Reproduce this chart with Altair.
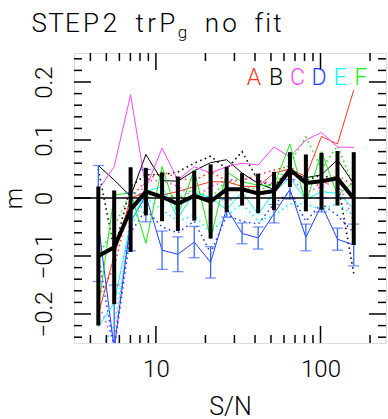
import altair as alt
import pandas as pd

# ---------------- data ----------------
SN = [4.47, 5.58, 7.02, 8.69, 10.9, 13.6, 17.1, 21.5, 26.9, 33.4, 41.8, 52.2, 65.2, 81.5, 101.4, 126.8, 159.2]

mean = [-0.100, -0.085, -0.020, 0.011, 0.002, -0.010, 0.004, -0.006, 0.015, 0.015, 0.008, 0.012, 0.049, 0.026, 0.029, 0.034, -0.001]
mean_err = [0.120, 0.098, 0.073, 0.041, 0.042, 0.047, 0.043, 0.064, 0.039, 0.028, 0.034, 0.033, 0.030, 0.049, 0.049, 0.047, 0.080]

A = [-0.200, -0.100, 0.000, 0.010, 0.005, 0.011, 0.020, 0.028, 0.028, 0.020, 0.020, 0.043, 0.050, 0.037, 0.106, 0.093, 0.186]
B = [0.056, 0.031, 0.003, 0.075, 0.030, 0.029, 0.047, 0.061, 0.066, 0.043, 0.025, 0.015, 0.042, 0.035, 0.040, 0.066, 0.025]
C = [0.014, 0.054, 0.178, 0.017, 0.086, 0.031, 0.054, 0.043, 0.054, 0.060, 0.057, 0.088, 0.071, 0.100, 0.113, 0.088, 0.087]
D = [-0.044, -0.260, -0.041, 0.004, -0.090, -0.097, -0.076, -0.111, -0.018, -0.061, -0.069, -0.027, 0.015, -0.068, -0.012, -0.071, -0.081]
D_err = [0.100, 0.110, 0.050, 0.045, 0.033, 0.030, 0.027, 0.027, 0.015, 0.018, 0.019, 0.016, 0.017, 0.023, 0.012, 0.019, 0.036]
E = [-0.222, -0.181, -0.043, 0.011, 0.020, -0.035, 0.010, 0.000, -0.020, 0.010, -0.028, 0.010, 0.035, -0.003, 0.011, 0.008, -0.018]
F = [-0.190, 0.005, 0.009, -0.078, 0.054, -0.030, 0.048, -0.070, 0.045, 0.028, 0.022, 0.022, 0.093, -0.010, 0.080, 0.005, 0.027]

A_dot = [-0.17, -0.12, 0.00, 0.03, 0.045, 0.035, 0.03, 0.045, 0.03, 0.03, 0.04, 0.048, 0.055, 0.03, 0.02, 0.04, 0.02]
B_dot = [0.05, -0.09, 0.02, 0.04, 0.04, 0.045, 0.06, 0.072, 0.05, 0.08, 0.03, 0.02, 0.05, 0.03, 0.04, 0.03, -0.13]
C_dot = [-0.18, -0.25, -0.03, 0.03, 0.03, 0.02, 0.0, 0.02, 0.03, 0.035, 0.03, 0.025, 0.035, 0.01, 0.02, 0.03, -0.04]
D_dot = [-0.10, -0.26, -0.06, -0.02, -0.05, -0.06, -0.04, -0.095, -0.03, -0.04, -0.045, -0.01, 0.01, -0.04, -0.01, -0.03, -0.06]
E_dot = [-0.27, -0.22, -0.05, 0.0, -0.02, -0.04, -0.03, -0.06, -0.03, -0.01, -0.04, -0.03, -0.01, -0.01, -0.02, -0.01, -0.03]
F_dot = [-0.10, -0.05, 0.01, 0.0, 0.01, 0.0, 0.015, 0.0, 0.03, 0.02, 0.015, 0.02, 0.06, 0.105, 0.05, 0.09, 0.02]

letters = ["A", "B", "C", "D", "E", "F"]
colors = ["#ff3322", "#000000", "#ff44ff", "#1f3fff", "#00ffff", "#11ee11"]
errbar_blue = "#3a66ff"

# title "STEP2 trP_g no fit" (g is a subscript)
title_chars = ["S", "T", "E", "P", "2", "t", "r", "P", "g", "n", "o", "f", "i", "t"]

x_major = [10, 100]
x_minor = [4, 5, 6, 7, 8, 9, 20, 30, 40, 50, 60, 70, 80, 90, 200]
y_major = [-0.2, -0.1, 0.0, 0.1, 0.2]
y_minor = [-0.24, -0.22, -0.18, -0.16, -0.14, -0.12, -0.08, -0.06, -0.04, -0.02,
           0.02, 0.04, 0.06, 0.08, 0.12, 0.14, 0.16, 0.18, 0.22, 0.24]

# ---------------- layout ----------------
W, H = 312, 290
LEFT, TOP = 74, 53
FONT = "Roboto"
FW = 300
FS = 24

solid = {"A": A, "B": B, "C": C, "D": D, "E": E, "F": F}
dotted = {"A": A_dot, "B": B_dot, "C": C_dot, "D": D_dot, "E": E_dot, "F": F_dot}

rows = []
for k, v in solid.items():
    for s, m in zip(SN, v):
        rows.append({"SN": s, "m": m, "series": k, "style": "solid"})
for k, v in dotted.items():
    for s, m in zip(SN, v):
        rows.append({"SN": s, "m": m, "series": k, "style": "dotted"})
lines_df = pd.DataFrame(rows)

mean_df = pd.DataFrame({"SN": SN, "m": mean, "err": mean_err})
d_df = pd.DataFrame({"SN": SN, "m": D, "err": D_err})

xs = alt.Scale(type="log", domain=[3.18, 250], nice=False)
ys = alt.Scale(domain=[-0.25, 0.25], nice=False, zero=False)
xaxis = alt.Axis(values=x_major, format="d", ticks=False, domain=False, grid=False,
                 labelFontSize=FS, labelFont=FONT, labelFontWeight=FW, labelPadding=14, labelColor="black",
                 title="S/N", titleFontSize=25, titleFont=FONT, titleFontWeight=FW,
                 titlePadding=13, titleColor="black")
yaxis = alt.Axis(values=y_major, format="~g", ticks=False, domain=False, grid=False,
                 labelFontSize=FS, labelFont=FONT, labelFontWeight=FW, labelAngle=270, labelAlign="center",
                 labelBaseline="bottom", labelPadding=18, labelColor="black",
                 title="m", titleFontSize=FS, titleFont=FONT, titleFontWeight=FW,
                 titlePadding=6, titleColor="black")


def X(field="SN"):
    return alt.X(f"{field}:Q", scale=xs, axis=xaxis)


def Y(field="m"):
    return alt.Y(f"{field}:Q", scale=ys, axis=yaxis)


color_scale = alt.Scale(domain=letters, range=colors)

base_lines = alt.Chart(lines_df)
dotted_layer = base_lines.transform_filter(alt.datum.style == "dotted").mark_line(
    clip=True, strokeWidth=1.6, strokeDash=[1.5, 3.5]
).encode(x=X(), y=Y(), color=alt.Color("series:N", scale=color_scale, legend=None), detail="series:N")

solid_layer = base_lines.transform_filter(alt.datum.style == "solid").mark_line(
    clip=True, strokeWidth=1
).encode(x=X(), y=Y(), color=alt.Color("series:N", scale=color_scale, legend=None), detail="series:N")

d_base = alt.Chart(d_df).transform_calculate(lo="datum.m - datum.err", hi="datum.m + datum.err")
d_bars = d_base.mark_rule(clip=True, color=errbar_blue, strokeWidth=1.3).encode(
    x=X(), y=Y("lo"), y2="hi:Q")
d_cap_lo = d_base.mark_tick(clip=True, color=errbar_blue, orient="horizontal", size=11, thickness=1.3).encode(
    x=X(), y=Y("lo"))
d_cap_hi = d_base.mark_tick(clip=True, color=errbar_blue, orient="horizontal", size=11, thickness=1.3).encode(
    x=X(), y=Y("hi"))

m_base = alt.Chart(mean_df).transform_calculate(lo="datum.m - datum.err", hi="datum.m + datum.err")
m_bars = m_base.mark_rule(clip=True, color="black", strokeWidth=4).encode(x=X(), y=Y("lo"), y2="hi:Q")
m_line = m_base.mark_line(clip=True, color="black", strokeWidth=4, strokeJoin="miter").encode(x=X(), y=Y())

zero_df = pd.DataFrame({"m": [0.0]})
zero_line = alt.Chart(zero_df).mark_rule(color="black", strokeWidth=1.5).encode(y=Y())

# frame ticks (inward)
xmaj_df = pd.DataFrame({"SN": x_major})
xmin_df = pd.DataFrame({"SN": x_minor})
ymaj_df = pd.DataFrame({"m": y_major})
ymin_df = pd.DataFrame({"m": y_minor})
tick_layers = []
for df, L in [(xmaj_df, 17), (xmin_df, 8)]:
    tick_layers.append(alt.Chart(df).mark_rule(color="black", strokeWidth=1.5).encode(
        x=X(), y=alt.value(H), y2=alt.value(H - L)))
    tick_layers.append(alt.Chart(df).mark_rule(color="black", strokeWidth=1.5).encode(
        x=X(), y=alt.value(0), y2=alt.value(L)))
for df, L in [(ymaj_df, 17), (ymin_df, 8)]:
    tick_layers.append(alt.Chart(df).mark_rule(color="black", strokeWidth=1.5).encode(
        y=Y(), x=alt.value(0), x2=alt.value(L)))
    tick_layers.append(alt.Chart(df).mark_rule(color="black", strokeWidth=1.5).encode(
        y=Y(), x=alt.value(W), x2=alt.value(W - L)))

# legend letters
legend_x = [180, 202, 223.5, 245, 266, 287]
legend_layers = []
for lt, col, px in zip(letters, colors, legend_x):
    legend_layers.append(alt.Chart(pd.DataFrame({"t": [lt]})).mark_text(
        font=FONT, fontWeight=FW, fontSize=23, color=col, align="center", baseline="alphabetic"
    ).encode(text="t:N", x=alt.value(px), y=alt.value(32)))

# title: wide-spaced vector-font look, one glyph per text mark (page pixel centres)
title_cx = [39.3, 56.0, 72.3, 91.0, 110.0, 139.8, 151.5, 167.3, 182.5, 211.9, 229.5, 258.8, 268.1, 277.5]
title_layers = []
for ch, cx in zip(title_chars, title_cx):
    sub = ch == "g"
    title_layers.append(alt.Chart(pd.DataFrame({"t": [ch]})).mark_text(
        font=FONT, fontWeight=FW, fontSize=17 if sub else 26, color="black",
        align="center", baseline="alphabetic"
    ).encode(text="t:N", x=alt.value(cx - LEFT), y=alt.value((38 if sub else 32) - TOP)))

chart = alt.layer(
    dotted_layer, solid_layer, d_bars, d_cap_lo, d_cap_hi, zero_line, m_bars, m_line,
    *tick_layers, *legend_layers, *title_layers
).properties(
    width=W, height=H,
    autosize=alt.AutoSizeParams(type="none"),
    padding={"left": LEFT, "top": TOP, "right": 2, "bottom": 76},
).configure_view(
    stroke="black", strokeWidth=2
).configure(background="white")

chart.save("out.html", embed_options={"renderer": "svg", "actions": False})
